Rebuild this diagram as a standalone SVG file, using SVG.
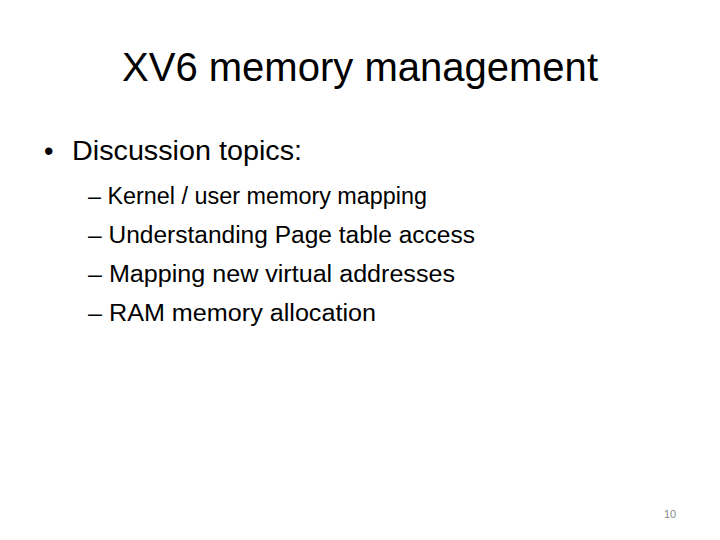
<svg xmlns="http://www.w3.org/2000/svg" width="720" height="540" viewBox="0 0 720 540">
<style>
text{font-family:"Liberation Sans","DejaVu Sans",sans-serif;fill:#000}
.s{font-size:23px}
</style>
<rect width="720" height="540" fill="#fff"/>
<text x="122" y="81" font-size="40" textLength="476" lengthAdjust="spacingAndGlyphs">XV6 memory management</text>
<text x="44" y="160" font-size="27">•</text>
<text x="72" y="160" font-size="27" textLength="230" lengthAdjust="spacingAndGlyphs">Discussion topics:</text>
<text class="s" x="88" y="204" textLength="339" lengthAdjust="spacingAndGlyphs">– Kernel / user memory mapping</text>
<text class="s" x="88" y="243" textLength="387" lengthAdjust="spacingAndGlyphs">– Understanding Page table access</text>
<text class="s" x="88" y="282" textLength="367" lengthAdjust="spacingAndGlyphs">– Mapping new virtual addresses</text>
<text class="s" x="88" y="321" textLength="288" lengthAdjust="spacingAndGlyphs">– RAM memory allocation</text>
<text x="664" y="518" font-size="11" fill="#888" style="fill:#888">10</text>
</svg>
